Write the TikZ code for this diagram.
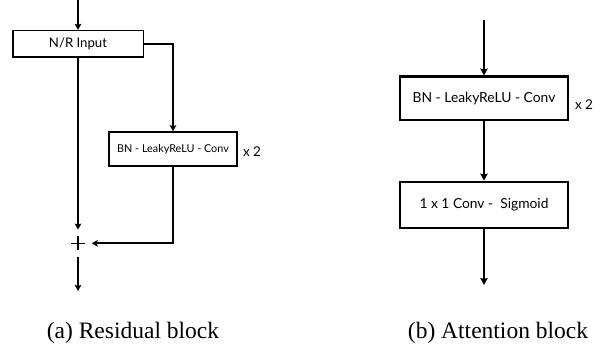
\documentclass[tikz,border=0pt]{standalone}
\usepackage{fontspec}
\setmainfont{Liberation Serif}
\newfontfamily\boxfont{Lato}
\usetikzlibrary{arrows.meta}
\newcommand{\fitw}[2]{\resizebox{#1pt}{!}{#2}}
\begin{document}
\begin{tikzpicture}[x=1pt,y=-1pt,
  lbox/.style={draw, line width=1.6pt, fill=white, inner sep=0pt, font=\boxfont},
  rbox/.style={draw, line width=2.3pt, fill=white, inner sep=0pt, font=\boxfont},
  larr/.style={line width=1.6pt, -{Stealth[length=6pt,width=6.5pt,inset=1pt]}},
  rarr/.style={line width=2pt, -{Stealth[length=7pt,width=7.5pt,inset=1pt]}},
  lbl/.style={inner sep=0pt, font=\boxfont},
  captxt/.style={inner sep=0pt, anchor=base, font=\fontsize{23.5}{28}\selectfont}]
\useasboundingbox (0,0) rectangle (607,352);
% ---------- (a) residual block ----------
\coordinate (top1) at (78,0);
\node[lbox, minimum width=130.6pt, minimum height=26.6pt] (nr) at (78,44) {\fitw{58}{N/R Input}};
\node[lbox, minimum width=127.7pt, minimum height=34pt] (bn1) at (173,149) {\fitw{111.6}{BN - LeakyReLU - Conv}};
\node[lbl] (x2a) at (252,152) {\fitw{18}{x 2}};
\node[minimum size=27pt, inner sep=0pt,
  path picture={\draw[line width=1.3pt] ([xshift=-7pt]path picture bounding box.center) -- ([xshift=7pt]path picture bounding box.center);
                \draw[line width=1.3pt] ([yshift=-7pt]path picture bounding box.center) -- ([yshift=7pt]path picture bounding box.center);}] (plus) at (78,243.3) {};
\coordinate (bot1) at (78,291);
\draw[larr] (top1) -- (nr.north);
\draw[larr] (nr.east) -| (bn1.north);
\draw[larr] (nr.south) -- (plus.north);
\draw[larr] (bn1.south) |- (plus.east);
\draw[larr] (plus.south) -- (bot1);
% ---------- (b) attention block ----------
\coordinate (top2) at (484,20);
\node[rbox, minimum width=168.3pt, minimum height=43.3pt] (bn2) at (484,98.3) {\fitw{142.7}{BN - LeakyReLU - Conv}};
\node[lbl] (x2b) at (584,105) {\fitw{18}{x 2}};
\node[rbox, minimum width=167.5pt, minimum height=46.6pt] (sg) at (484,205) {\fitw{129}{1 x 1 Conv -\ \ Sigmoid}};
\coordinate (bot2) at (484,285);
\draw[rarr] (top2) -- (bn2.north);
\draw[rarr] (bn2.south) -- (sg.north);
\draw[rarr] (sg.south) -- (bot2);
% ---------- captions ----------
\node[captxt] (capa) at (133,338) {(a) Residual block};
\node[captxt] (capb) at (498,338) {(b) Attention block};
\end{tikzpicture}
\end{document}
